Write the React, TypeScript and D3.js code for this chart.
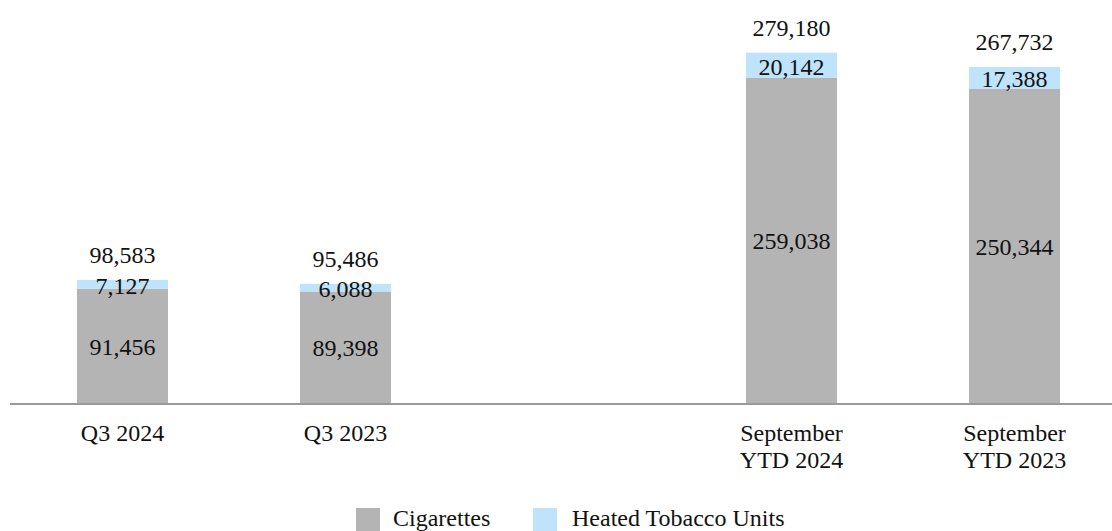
import React from "react";
import * as d3 from "d3";

const categories = ["Q3 2024", "Q3 2023", "September YTD 2024", "September YTD 2023"];
const categoryLines = [["Q3 2024"], ["Q3 2023"], ["September", "YTD 2024"], ["September", "YTD 2023"]];
const cigarettes = [91456, 89398, 259038, 250344];
const heatedTobacco = [7127, 6088, 20142, 17388];
const totals = [98583, 95486, 279180, 267732];
const seriesNames = ["Cigarettes", "Heated Tobacco Units"];

const W = 1112;
const H = 531;
const axisY = 404;
const barW = 91;
const GRAY = "#b4b4b4";
const BLUE = "#bee3fb";
const FONT = "'Liberation Serif', 'Times New Roman', serif";

export default function App() {
  const slots = [categories[0], categories[1], "__gap", categories[2], categories[3]];
  const x = d3.scalePoint<string>().domain(slots).range([122.5, 1014.5]);
  const y = d3.scaleLinear().domain([0, 321000]).range([axisY, 0]);
  const fmt = d3.format(",");

  return (
    <svg
      width={W}
      height={H}
      style={{ position: "absolute", left: 0, top: 0, display: "block" }}
      fontFamily={FONT}
    >
      <rect width={W} height={H} fill="#fff" />
      {categories.map((c, i) => {
        const cx = x(c) as number;
        const cigTop = y(cigarettes[i]);
        const totTop = y(cigarettes[i] + heatedTobacco[i]);
        return (
          <g key={c}>
            <rect x={cx - barW / 2} y={cigTop} width={barW} height={axisY - cigTop} fill={GRAY} />
            <rect x={cx - barW / 2} y={totTop} width={barW} height={cigTop - totTop} fill={BLUE} />
            <text x={cx} y={(cigTop + axisY) / 2 + 8.5} textAnchor="middle" fontSize={24} fill="#111">
              {fmt(cigarettes[i])}
            </text>
            <text x={cx} y={(totTop + cigTop) / 2 + 9.5} textAnchor="middle" fontSize={24} fill="#111">
              {fmt(heatedTobacco[i])}
            </text>
            <text x={cx} y={y(totals[i]) - 17} textAnchor="middle" fontSize={24} fill="#111">
              {fmt(totals[i])}
            </text>
            {categoryLines[i].map((line, j) => (
              <text key={j} x={cx} y={441 + j * 27} textAnchor="middle" fontSize={24} fill="#111">
                {line}
              </text>
            ))}
          </g>
        );
      })}
      <line x1={10} x2={W} y1={axisY} y2={axisY} stroke="#9a9a9a" strokeWidth={2} />
      <g>
        <rect x={356} y={508} width={24} height={23} fill={GRAY} />
        <text x={393} y={526} fontSize={24} fill="#111">{seriesNames[0]}</text>
        <rect x={533} y={508} width={24} height={23} fill={BLUE} />
        <text x={572} y={526} fontSize={24} fill="#111">{seriesNames[1]}</text>
      </g>
    </svg>
  );
}
